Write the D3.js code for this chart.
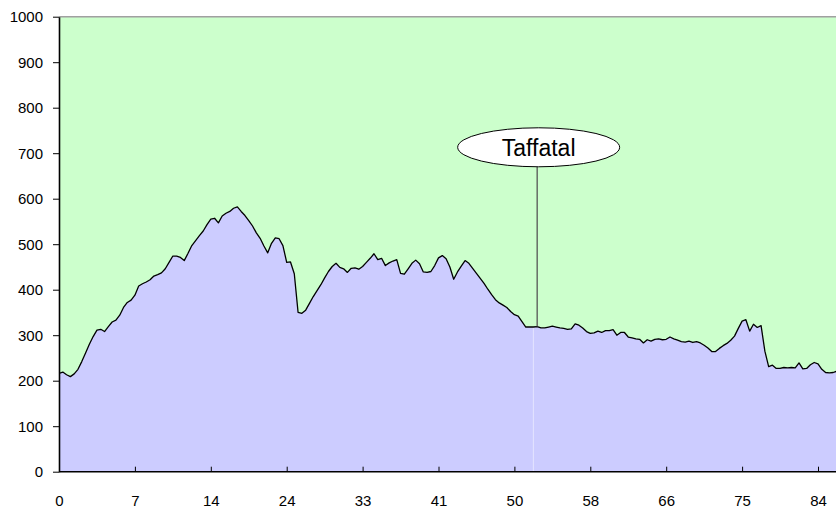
<!DOCTYPE html>
<html>
<head>
<meta charset="utf-8">
<script src="https://cdn.jsdelivr.net/npm/d3@7"></script>
<style>
  html, body { margin: 0; padding: 0; background: #ffffff; }
  svg { display: block; }
  .axis text { font-family: "Liberation Sans", Arial, sans-serif; font-size: 15px; fill: #000; }
</style>
</head>
<body>
<svg id="chart" width="836" height="510"></svg>
<script>
// ---- data ----
const elevation = [
  216, 219, 213, 209, 215, 225, 242, 261, 280, 297,
  311, 313, 308, 319, 329, 333, 344, 361, 372, 377,
  388, 408, 413, 417, 422, 430, 433, 437, 446, 460,
  474, 474, 471, 464, 480, 497, 508, 519, 529, 543,
  555, 557, 547, 562, 568, 572, 579, 582, 572, 563,
  552, 540, 525, 513, 496, 481, 502, 514, 512, 497,
  460, 461, 435, 350, 348, 355, 370, 385, 398, 411,
  426, 440, 451, 458, 449, 446, 438, 447, 448, 445,
  451, 460, 469, 479, 466, 469, 453, 459, 463, 466,
  436, 434, 446, 458, 465, 457, 439, 438, 440, 453,
  470, 475, 468, 450, 423, 439, 452, 464, 458, 447,
  436, 425, 414, 401, 389, 378, 371, 366, 361, 352,
  345, 342, 330, 318, 318, 318, 319, 316, 316, 318,
  320, 318, 316, 315, 313, 314, 325, 322, 316, 308,
  304, 305, 309, 306, 310, 310, 312, 300, 306, 306,
  296, 294, 292, 291, 283, 290, 287, 291, 292, 290,
  291, 296, 292, 289, 286, 285, 287, 284, 286, 283,
  278, 272, 264, 264, 271, 277, 282, 289, 298, 315,
  331, 334, 309, 324, 317, 321, 265, 231, 234, 227,
  227, 229, 228, 229, 228, 239, 226, 227, 235, 240,
  237, 225, 218, 217, 218, 221
];
const tickLabels = ["0", "7", "14", "24", "33", "41", "50", "58", "66", "75", "84"];
const tickEvery = 20;
const yTicks = [0, 100, 200, 300, 400, 500, 600, 700, 800, 900, 1000];
const annotationLabel = "Taffatal";
const annotationIndex = 126;
const annotationValue = 713;
const markerIndex = 125;

// ---- layout ----
(function () {
const svg = d3.select("#chart");
const plotL = 59, plotT = 16.7, plotB = 471.7, plotR = 836;

const x = d3.scaleLinear()
  .domain([0, tickEvery * (tickLabels.length - 1)])
  .range([plotL, 818]);
const y = d3.scaleLinear().domain([0, 1000]).range([plotB, plotT]);

// plot background
svg.append("rect")
  .attr("x", plotL).attr("y", plotT)
  .attr("width", plotR - plotL).attr("height", plotB - plotT)
  .attr("fill", "#CCFFCC");

// top border
svg.append("line")
  .attr("x1", plotL).attr("x2", plotR)
  .attr("y1", plotT).attr("y2", plotT)
  .attr("stroke", "#a0a0a0").attr("stroke-width", 1.5);

svg.append("clipPath").attr("id", "plotclip")
  .append("rect").attr("x", plotL).attr("y", plotT)
  .attr("width", plotR - plotL).attr("height", plotB - plotT);

const g = svg.append("g").attr("clip-path", "url(#plotclip)");

const area = d3.area()
  .x((d, i) => x(i))
  .y0(y(0))
  .y1(d => y(d));
const line = d3.line()
  .x((d, i) => x(i))
  .y(d => y(d));

g.append("path")
  .datum(elevation)
  .attr("d", area)
  .attr("fill", "#CCCCFF");

// pale marker line under the curve
g.append("line")
  .attr("x1", x(markerIndex)).attr("x2", x(markerIndex))
  .attr("y1", y(elevation[markerIndex])).attr("y2", y(0))
  .attr("stroke", "#e4e4ff").attr("stroke-width", 1);

g.append("path")
  .datum(elevation)
  .attr("d", line)
  .attr("fill", "none")
  .attr("stroke", "#000")
  .attr("stroke-width", 1.3)
  .attr("stroke-linejoin", "round");

// annotation
const ax = x(annotationIndex);
const ay = y(annotationValue);
const rx = 81, ry = 19.5;
svg.append("line")
  .attr("x1", ax).attr("x2", ax)
  .attr("y1", ay + ry).attr("y2", y(elevation[annotationIndex]))
  .attr("stroke", "#555").attr("stroke-width", 1.3);
svg.append("ellipse")
  .attr("cx", ax + 1.5).attr("cy", ay)
  .attr("rx", rx).attr("ry", ry)
  .attr("fill", "#fff").attr("stroke", "#000").attr("stroke-width", 1);
svg.append("text")
  .attr("x", ax + 1.5).attr("y", ay)
  .attr("dy", "0.36em")
  .attr("text-anchor", "middle")
  .attr("font-family", "Liberation Sans, Arial, sans-serif")
  .attr("font-size", 23)
  .text(annotationLabel);

// axes
const yAxis = d3.axisLeft(y)
  .tickValues(yTicks)
  .tickFormat(d3.format("d"))
  .tickSize(6)
  .tickPadding(10)
  .tickSizeOuter(0);
const ga = svg.append("g").attr("class", "axis")
  .attr("transform", `translate(${plotL},0)`)
  .call(yAxis);
ga.select(".domain").attr("stroke", "#000").attr("stroke-width", 1.6);
ga.selectAll(".tick line").attr("stroke", "#000");

const xTickVals = tickLabels.map((_, i) => i * tickEvery);
const xAxis = d3.axisBottom(x)
  .tickValues(xTickVals)
  .tickFormat((d, i) => tickLabels[i])
  .tickSizeInner(-5)
  .tickSizeOuter(0)
  .tickPadding(24);
const gx = svg.append("g").attr("class", "axis")
  .attr("transform", `translate(0,${plotB})`)
  .call(xAxis);
gx.select(".domain").attr("d", `M${plotL},0H${plotR}`).attr("stroke", "#000").attr("stroke-width", 1.6);
gx.selectAll(".tick line").attr("stroke", "#000");
})();
</script>
</body>
</html>
